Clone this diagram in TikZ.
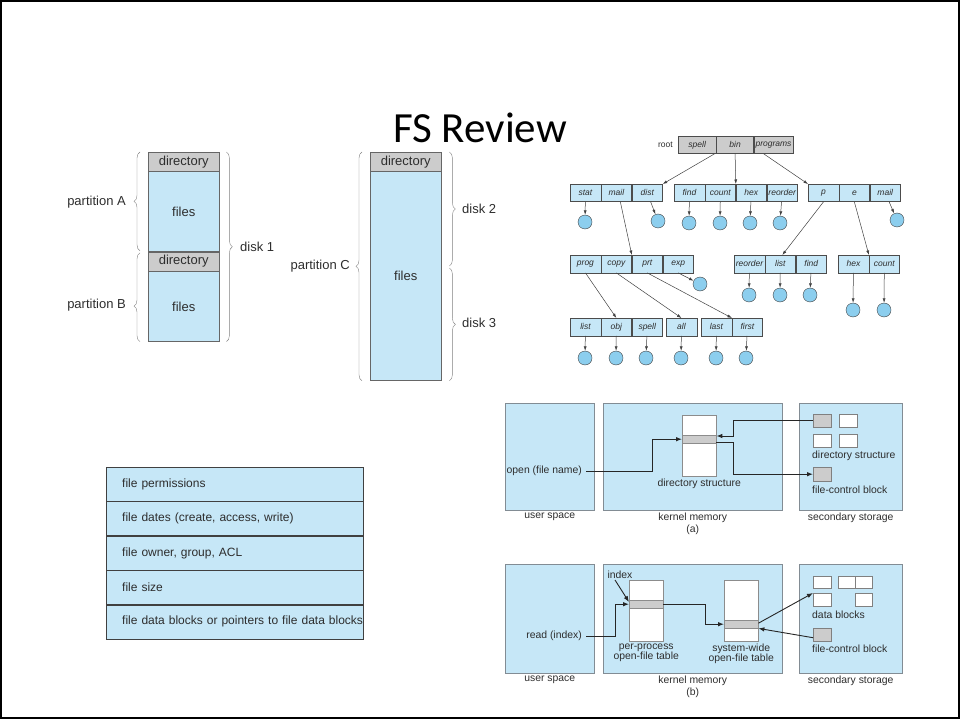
\documentclass[tikz,border=0pt]{standalone}
\usepackage{fontspec}
\setmainfont{Liberation Sans}
\newfontfamily\slidefont{Carlito}
\usetikzlibrary{arrows.meta, positioning, decorations.pathreplacing}
\definecolor{pblue}{RGB}{198,231,247}
\definecolor{pgray}{RGB}{204,204,204}
\definecolor{ink}{RGB}{45,45,45}
\definecolor{edge}{RGB}{130,140,148}
\definecolor{ball}{RGB}{140,206,238}
\tikzset{
  dirc/.style ={rectangle, draw=black!60, fill=pgray, minimum width=71pt, minimum height=19pt, inner sep=0pt, text=ink, font=\fontsize{13}{15}\selectfont},
  filc/.style ={dirc, fill=pblue},
  brc/.style  ={draw=black!50, decorate, decoration={brace, amplitude=6pt}},
  dlbl/.style ={inner sep=0pt, text=ink, font=\fontsize{13}{15}\selectfont},
  cel/.style  ={rectangle, draw=black!70, fill=pblue, minimum width=30.5pt, minimum height=17.5pt, inner sep=0pt, text=ink, font=\fontsize{8.5}{9}\selectfont\itshape},
  rcel/.style ={cel, fill=pgray},
  leaf/.style ={circle, draw=black!75, fill=ball, minimum size=14pt, inner sep=0pt},
  tfl/.style  ={-{Latex[length=4.5pt, width=3pt]}, draw=black!75, line width=0.5pt},
  attr/.style ={rectangle, draw=black!75, fill=pblue, text width=257pt, inner xsep=0pt, minimum height=34pt, align=left, text=ink, font=\fontsize{12}{14}\selectfont, execute at begin node=\hspace*{16pt}},
  pan/.style  ={rectangle, draw=edge, fill=pblue, inner sep=0pt},
  tbl/.style  ={rectangle, draw=black!45, fill=white, minimum width=34pt, minimum height=61pt, inner sep=0pt},
  bnd/.style  ={rectangle, draw=black!45, fill=pgray, minimum width=34pt, minimum height=8pt, inner sep=0pt},
  sq/.style   ={rectangle, draw=black!50, fill=white, minimum width=18pt, minimum height=13pt, inner sep=0pt},
  gsq/.style  ={sq, fill=pgray},
  txt/.style  ={inner sep=2pt, text=ink, font=\fontsize{10.4}{10.6}\selectfont, align=center},
  arw/.style  ={-{Latex[length=6pt, width=4.5pt]}, line width=0.9pt, draw=black!85},
}

\begin{document}
\begin{tikzpicture}[x=1pt, y=-1pt]
  \useasboundingbox (0,0) rectangle (960,719);
  \draw[line width=2pt] (1,1) rectangle (959,718);
  \node[font=\slidefont\fontsize{43}{50}\selectfont] (ttl) at (480,128) {FS Review};

  % disk 1 with two partitions
  \node[dirc, anchor=north west] (dA) at (148,152) {directory};
  \node[filc, minimum height=80pt, below=0pt of dA] (fA) {files};
  \node[dirc, below=0pt of fA] (dB) {directory};
  \node[filc, minimum height=70pt, below=0pt of dB] (fB) {files};
  \draw[brc] ([xshift=-8pt, yshift=1pt]fA.south west) -- ([xshift=-8pt]dA.north west);
  \draw[brc, decoration={aspect=0.4}] ([xshift=-8pt]fB.south west) -- ([xshift=-8pt, yshift=-1pt]dB.north west);
  \draw[brc] ([xshift=7pt]dA.north east) -- ([xshift=7pt]fB.south east);
  \node[dlbl, anchor=east] (pA) at (126,202) {partition A};
  \node[dlbl, anchor=east] (pB) at (126,305) {partition B};
  \node[dlbl, anchor=west] (k1) at (240,247) {disk 1};

  % partition C over two disks
  \node[dirc, anchor=north west] (dC) at (370,152) {directory};
  \node[filc, minimum height=209pt, below=0pt of dC] (fC) {files};
  \draw[brc] ([xshift=-8pt]fC.south west) -- ([xshift=-8pt]dC.north west);
  \draw[brc] ([xshift=8pt]dC.north east) -- ([xshift=8pt]dC.north east |- 0,266);
  \draw[brc] ([xshift=8pt]fC.north east |- 0,268) -- ([xshift=8pt]fC.south east);
  \node[dlbl, anchor=east] (pC) at (350,266) {partition C};
  \node[dlbl, anchor=west] (k2) at (462,209) {disk 2};
  \node[dlbl, anchor=west] (k3) at (462,323) {disk 3};

  % directory tree
  \node[rcel, minimum width=38pt, anchor=north west] (r1) at (678,136) {spell};
  \node[rcel, minimum width=37pt, right=0pt of r1] (r2) {bin};
  \node[rcel, minimum width=39pt, right=0pt of r2] (r3) {programs};
  \node[inner sep=0pt, text=ink, font=\fontsize{8.5}{9}\selectfont, left=5pt of r1] (rt) {root};

  \node[cel, anchor=north west] (a1) at (570,184) {stat};
  \node[cel, right=0pt of a1] (a2) {mail};
  \node[cel, right=0pt of a2] (a3) {dist};
  \node[cel, anchor=north west] (b1) at (674,184) {find};
  \node[cel, right=0pt of b1] (b2) {count};
  \node[cel, right=0pt of b2] (b3) {hex};
  \node[cel, right=0pt of b3] (b4) {reorder};
  \node[cel, anchor=north west] (c1) at (808,184) {p};
  \node[cel, right=0pt of c1] (c2) {e};
  \node[cel, right=0pt of c2] (c3) {mail};

  \node[cel, anchor=north west] (d1) at (570,255) {prog};
  \node[cel, right=0pt of d1] (d2) {copy};
  \node[cel, right=0pt of d2] (d3) {prt};
  \node[cel, right=0pt of d3] (d4) {exp};
  \node[cel, anchor=north west] (e1) at (734,255) {reorder};
  \node[cel, right=0pt of e1] (e2) {list};
  \node[cel, right=0pt of e2] (e3) {find};
  \node[cel, anchor=north west] (f1) at (838,255) {hex};
  \node[cel, right=0pt of f1] (f2) {count};

  \node[cel, anchor=north west] (g1) at (570,318) {list};
  \node[cel, right=0pt of g1] (g2) {obj};
  \node[cel, right=0pt of g2] (g3) {spell};
  \node[cel, anchor=north west] (h1) at (666,318) {all};
  \node[cel, anchor=north west] (k1c) at (701,318) {last};
  \node[cel, right=0pt of k1c] (k2c) {first};

  \node[leaf] (la1) at (585,222) {};
  \node[leaf] (la3) at (658,221) {};
  \node[leaf] (lb1) at (689,223) {};
  \node[leaf] (lb2) at (720,223) {};
  \node[leaf] (lb3) at (750,223) {};
  \node[leaf] (lb4) at (780,223) {};
  \node[leaf] (lc3) at (897,220) {};
  \node[leaf] (ld4) at (700,284) {};
  \node[leaf] (le1) at (749,295) {};
  \node[leaf] (le2) at (780,295) {};
  \node[leaf] (le3) at (810,295) {};
  \node[leaf] (lf1) at (853,310) {};
  \node[leaf] (lf2) at (884,310) {};
  \node[leaf] (lg1) at (585,358) {};
  \node[leaf] (lg2) at (616,358) {};
  \node[leaf] (lg3) at (646,358) {};
  \node[leaf] (lh1) at (681,358) {};
  \node[leaf] (lk1) at (716,358) {};
  \node[leaf] (lk2) at (746,358) {};

  \draw[tfl] ([xshift=-2pt]r1.south east) -- (a3.north east);
  \draw[tfl] (r2.south) -- (b2.north east);
  \draw[tfl] ([xshift=10pt]r3.south west) -- (c1.north west);
  \draw[tfl] ([xshift=4pt]a2.south) -- (d2.north east);
  \draw[tfl] (c1.south) -- ([xshift=2pt]e2.north);
  \draw[tfl] (c2.south) -- (f1.north east);
  \draw[tfl] (d1.south) -- (g2.north);
  \draw[tfl] (d2.south) -- (h1.north);
  \draw[tfl] (d3.south) -- (k1c.north east);
  \draw[tfl] (a1) -- (la1);
  \draw[tfl] (a3) -- (la3);
  \draw[tfl] (b1) -- (lb1);
  \draw[tfl] (b2) -- (lb2);
  \draw[tfl] (b3) -- (lb3);
  \draw[tfl] (b4) -- (lb4);
  \draw[tfl] (c3) -- (lc3);
  \draw[tfl] (d4.south) -- (ld4);
  \draw[tfl] (e1) -- (le1);
  \draw[tfl] (e2) -- (le2);
  \draw[tfl] (e3) -- (le3);
  \draw[tfl] (f1) -- (lf1);
  \draw[tfl] (f2) -- (lf2);
  \draw[tfl] (g1) -- (lg1);
  \draw[tfl] (g2) -- (lg2);
  \draw[tfl] (g3) -- (lg3);
  \draw[tfl] (h1) -- (lh1);
  \draw[tfl] (k1c) -- (lk1);
  \draw[tfl] (k2c) -- (lk2);

  % file control block
  \node[attr, anchor=north west] (at1) at (106,467) {file permissions};
  \node[attr, below=0pt of at1] (at2) {file dates (create, access, write)};
  \node[attr, below=0pt of at2] (at3) {file owner, group, ACL};
  \node[attr, below=0pt of at3] (at4) {file size};
  \node[attr, below=0pt of at4] (at5) {file data blocks or pointers to file data blocks};

  % (a) open
  \node[pan, minimum width=89pt, minimum height=107pt, anchor=north west] (usa) at (505,403) {};
  \node[pan, minimum width=179pt, minimum height=107pt, anchor=north west] (kma) at (603,403) {};
  \node[pan, minimum width=103pt, minimum height=107pt, anchor=north west] (ssa) at (799,403) {};
  \node[tbl, anchor=north west] (dsa) at (682,415) {};
  \node[bnd, anchor=north west] (bna) at (682,435) {};
  \node[txt, below=0pt of dsa] (dsal) {directory structure};
  \node[txt, anchor=east, inner xsep=4pt] (opn) at (586,471) {open (file name)};
  \node[gsq, anchor=north west] (sq1) at (813,414) {};
  \node[sq, anchor=north west] (sq2) at (839,414) {};
  \node[sq, anchor=north west] (sq3) at (813,434) {};
  \node[sq, anchor=north west] (sq4) at (839,434) {};
  \node[txt, anchor=west, inner sep=0pt] (dsl) at (812,456) {directory structure};
  \node[gsq, minimum height=14pt, anchor=north west] (fcba) at (813,467) {};
  \node[txt, anchor=west, inner sep=0pt] (fcal) at (812,490) {file-control block};
  \node[txt, below=0pt of usa] (usal) {user space};
  \node[txt, below=0pt of kma] (kmal) {kernel memory};
  \node[txt, below=-2pt of kmal] (capa) {(a)};
  \node[txt, below=0pt of ssa] (ssal) {secondary storage};
  \draw[arw] (opn.east) -- ++(66,0) |- (bna.west);
  \draw[arw] (sq1.west) -- ++(-80,0) |- ([yshift=-1pt]bna.north east);
  \draw[arw] ([yshift=1pt]bna.south east) -- ++(17,0) |- (fcba.west);

  % (b) read
  \node[pan, minimum width=89pt, minimum height=109pt, anchor=north west] (usb) at (505,564) {};
  \node[pan, minimum width=179pt, minimum height=109pt, anchor=north west] (kmb) at (603,564) {};
  \node[pan, minimum width=103pt, minimum height=109pt, anchor=north west] (ssb) at (799,564) {};
  \node[tbl, anchor=north west] (ppt) at (629,580) {};
  \node[bnd, anchor=north west] (bnb1) at (629,600) {};
  \node[txt, anchor=south, inner sep=1pt] (idx) at (620,580) {index};
  \node[txt, anchor=east, inner xsep=4pt] (rd) at (586,636) {read (index)};
  \node[txt, below=0pt of ppt] (pptl) {per-process\\open-file table};
  \node[tbl, anchor=north west] (swt) at (724,580) {};
  \node[bnd, anchor=north west] (bnb2) at (724,620) {};
  \node[txt, below=0pt of swt] (swtl) {system-wide\\open-file table};
  \node[sq, minimum height=12pt, anchor=north west] (db1) at (813,576) {};
  \node[sq, minimum width=17pt, minimum height=12pt, anchor=north west] (db2) at (838,576) {};
  \node[sq, minimum width=17pt, minimum height=12pt, anchor=north west] (db3) at (855,576) {};
  \node[sq, anchor=north west] (db4) at (813,593) {};
  \node[sq, minimum width=17pt, anchor=north west] (db5) at (855,593) {};
  \node[txt, anchor=west, inner sep=0pt] (dbl) at (812,615) {data blocks};
  \node[gsq, anchor=north west] (fcbb) at (813,628) {};
  \node[txt, anchor=west, inner sep=0pt] (fcbl) at (812,649) {file-control block};
  \node[txt, below=0pt of usb] (usbl) {user space};
  \node[txt, below=0pt of kmb] (kmbl) {kernel memory};
  \node[txt, below=-2pt of kmbl] (capb) {(b)};
  \node[txt, below=0pt of ssb] (ssbl) {secondary storage};
  \draw[arw] ([xshift=-5pt]idx.south) -- ([yshift=-2pt]bnb1.north west);
  \draw[arw] (rd.east) -- ++(29,0) |- (bnb1.west);
  \draw[arw] (bnb1.east) -- ++(42,0) |- (bnb2.west);
  \draw[arw] ([yshift=1pt]bnb2.east) -- (db4.north west);
  \draw[arw] ([yshift=-3pt]fcbb.west) -- (bnb2.south east);
\end{tikzpicture}
\end{document}
